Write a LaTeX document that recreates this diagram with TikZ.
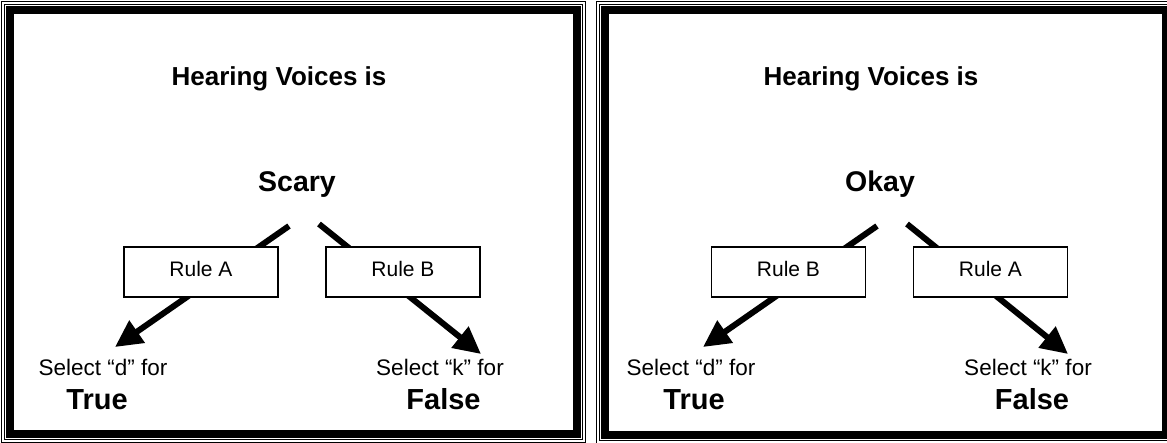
\documentclass[tikz,border=0pt]{standalone}
\usepackage{fontspec}
\setmainfont{Liberation Sans}
\usetikzlibrary{arrows.meta,backgrounds}
\newcommand\panelframe[4]{%
  \draw[line width=8pt] (#1-4,#2-4) rectangle (#3+4,#4+4);
  \draw[line width=1pt] (#1-9.5,#2-9.5) rectangle (#3+9.5,#4+9.5);
  \draw[line width=1pt] (#1-12.5,#2-12.5) rectangle (#3+12.5,#4+12.5);
}
\begin{document}
\begin{tikzpicture}[x=1pt,y=-1pt,
  title/.style={anchor=base,inner sep=0pt,font=\fontsize{26}{30}\selectfont\bfseries},
  word/.style={anchor=base,inner sep=0pt,font=\fontsize{28.5}{32}\selectfont\bfseries},
  answer/.style={anchor=base,inner sep=0pt,font=\fontsize{29}{33}\selectfont\bfseries},
  select/.style={anchor=base,inner sep=0pt,font=\fontsize{22.5}{26}\selectfont},
  rulebox/.style={draw,line width=1.3pt,fill=white,minimum width=154pt,minimum height=50pt,
    inner sep=0pt,text height=15pt,text depth=6pt,font=\fontsize{21}{24}\selectfont},
  bigarrow/.style={line width=6pt,-{Triangle[length=27pt,width=26pt]}}]
\useasboundingbox (0,0) rectangle (1167,443);
\begin{scope}
\clip (0,0) rectangle (1167,443);
\panelframe{14}{14}{573}{430}
\panelframe{609}{14}{1162}{431}
\end{scope}

% left panel
\node[title] (h1) at (279,86) {Hearing Voices is};
\node[word] (s1) at (297,192) {Scary};
\node[rulebox] (ra1) at (201,272) {Rule A};
\node[rulebox] (rb1) at (403,272) {Rule B};
\coordinate (p1) at (289,226);
\coordinate (t1) at (115,347);
\coordinate (p2) at (319,224);
\coordinate (t2) at (481,354);
\node[select] (sd1) at (103,376) {Select “d” for};
\node[answer] (tr1) at (97,409) {True};
\node[select] (sk1) at (440,376) {Select “k” for};
\node[answer] (fa1) at (443.5,409) {False};

% right panel
\node[title] (h2) at (871,86) {Hearing Voices is};
\node[word] (s2) at (880,192) {Okay};
\node[rulebox] (rb2) at (788.5,272) {Rule B};
\node[rulebox] (ra2) at (990.5,272) {Rule A};
\coordinate (p3) at (877,226);
\coordinate (t3) at (703,347);
\coordinate (p4) at (907,224);
\coordinate (t4) at (1068,354);
\node[select] (sd2) at (691,376) {Select “d” for};
\node[answer] (tr2) at (694,409) {True};
\node[select] (sk2) at (1028,376) {Select “k” for};
\node[answer] (fa2) at (1032,409) {False};

\begin{pgfonlayer}{background}
\fill[white] (0,0) rectangle (1167,443);
\draw[bigarrow] (p1) -- (t1);
\draw[bigarrow] (p2) -- (t2);
\draw[bigarrow] (p3) -- (t3);
\draw[bigarrow] (p4) -- (t4);
\end{pgfonlayer}
\end{tikzpicture}
\end{document}
